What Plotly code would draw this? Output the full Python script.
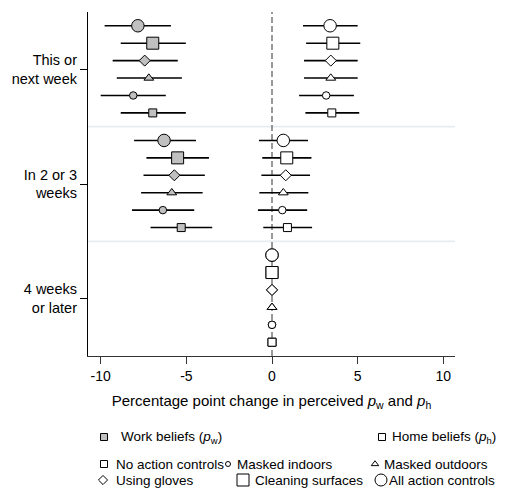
import plotly.graph_objects as go

# ---------------- data ----------------
periods = ["This or<br>next week", "In 2 or 3<br>weeks", "4 weeks<br>or later"]
actions = ["All action controls", "Cleaning surfaces", "Using gloves",
           "Masked outdoors", "Masked indoors", "No action controls"]

# Work beliefs (p_w), per action (order above), per period
work_est_p1 = [-7.83, -6.96, -7.43, -7.19, -8.10, -6.96]
work_lo_p1 = [-9.77, -8.83, -9.30, -9.06, -10.00, -8.83]
work_hi_p1 = [-5.90, -5.03, -5.50, -5.26, -6.20, -5.03]
work_est_p2 = [-6.30, -5.51, -5.70, -5.85, -6.37, -5.30]
work_lo_p2 = [-8.05, -7.33, -7.50, -7.64, -8.17, -7.09]
work_hi_p2 = [-4.44, -3.68, -3.92, -4.05, -4.54, -3.49]
work_est_p3 = [0, 0, 0, 0, 0, 0]
work_lo_p3 = [0, 0, 0, 0, 0, 0]
work_hi_p3 = [0, 0, 0, 0, 0, 0]

# Home beliefs (p_h)
home_est_p1 = [3.39, 3.55, 3.43, 3.43, 3.16, 3.49]
home_lo_p1 = [1.81, 1.99, 1.87, 1.87, 1.58, 1.95]
home_hi_p1 = [5.00, 5.15, 5.00, 5.00, 4.78, 5.09]
home_est_p2 = [0.66, 0.86, 0.80, 0.66, 0.60, 0.90]
home_lo_p2 = [-0.76, -0.57, -0.62, -0.74, -0.82, -0.51]
home_hi_p2 = [2.10, 2.30, 2.22, 2.12, 2.05, 2.34]
home_est_p3 = [0, 0, 0, 0, 0, 0]
home_lo_p3 = [0, 0, 0, 0, 0, 0]
home_hi_p3 = [0, 0, 0, 0, 0, 0]

x_ticks = [-10, -5, 0, 5, 10]

# ---------------- styles ----------------
FONT = "Liberation Sans, Arial, Helvetica, sans-serif"
GRAY = "#c0c0c0"
symbols = ["circle", "square", "diamond", "triangle-up", "circle", "square"]
sizes = [12.5, 12, 8.5, 8.5, 7.5, 8]
centers = [3, 2, 1]
row_step = 0.152
offsets = [2.5, 1.5, 0.5, -0.5, -1.5, -2.5]

work = [(work_est_p1, work_lo_p1, work_hi_p1),
        (work_est_p2, work_lo_p2, work_hi_p2),
        (work_est_p3, work_lo_p3, work_hi_p3)]
home = [(home_est_p1, home_lo_p1, home_hi_p1),
        (home_est_p2, home_lo_p2, home_hi_p2),
        (home_est_p3, home_lo_p3, home_hi_p3)]

fig = go.Figure()

for data, fill in [(work, GRAY), (home, "white")]:
    for i, act in enumerate(actions):
        xs = [data[p][0][i] for p in range(3)]
        lo = [data[p][1][i] for p in range(3)]
        hi = [data[p][2][i] for p in range(3)]
        ys = [centers[p] + offsets[i] * row_step for p in range(3)]
        fig.add_trace(go.Scatter(
            x=xs, y=ys, mode="markers", showlegend=False, name=act,
            marker=dict(symbol=symbols[i], size=sizes[i], color=fill,
                        line=dict(color="black", width=1)),
            error_x=dict(type="data", symmetric=False,
                         array=[h - x for h, x in zip(hi, xs)],
                         arrayminus=[x - l for x, l in zip(xs, lo)],
                         color="black", thickness=1.6, width=0),
        ))

# ---------------- legend (keys as pixel-sized shapes + text) ----------------
L, R, T, B = 88, 57, 12, 148
W, H = 512, 504
pw, ph = W - L - R, H - T - B


def px_x(p):
    return (p - L) / pw


def px_y(p):
    return (H - B - p) / ph


LEG_FONT = dict(family=FONT, size=13.5, color="black")
legend_items = [
    ("Work beliefs (<i>p</i><sub>w</sub>)", "square", 7, GRAY, 104, 121, 437),
    ("Home beliefs (<i>p</i><sub>h</sub>)", "square", 7, "white", 382, 392, 437),
    ("No action controls", "square", 7, "white", 104, 116, 464),
    ("Masked indoors", "circle", 5, "white", 228, 237, 464),
    ("Masked outdoors", "triangle-up", 6.5, "white", 375, 384, 464),
    ("Using gloves", "diamond", 7, "white", 103, 116, 480),
    ("Cleaning surfaces", "square", 12, "white", 243, 255, 480),
    ("All action controls", "circle", 12, "white", 381, 389, 480),
]

shapes = []
annotations = []
for name, sym, sz, fill, S, Tx, Y in legend_items:
    base = dict(xref="paper", yref="paper", xsizemode="pixel", ysizemode="pixel",
                xanchor=px_x(S), yanchor=px_y(Y), fillcolor=fill,
                line=dict(color="black", width=1), layer="above")
    r = sz / 2
    if sym == "square":
        shapes.append(dict(type="rect", x0=-r, x1=r, y0=-r, y1=r, **base))
    elif sym == "circle":
        shapes.append(dict(type="circle", x0=-r, x1=r, y0=-r, y1=r, **base))
    elif sym == "diamond":
        rd = 1.3 * r
        shapes.append(dict(type="path",
                           path=f"M0,{-rd} L{rd},0 L0,{rd} L{-rd},0 Z", **base))
    elif sym == "triangle-up":
        rt = 2 * r / 3 ** 0.5
        shapes.append(dict(type="path",
                           path=f"M{-rt},{-r / 2} L{rt},{-r / 2} L0,{r} Z", **base))
    annotations.append(dict(
        text=name, xref="paper", yref="paper", x=px_x(Tx - 2), y=px_y(Y),
        xanchor="left", yanchor="middle", showarrow=False, font=LEG_FONT,
    ))

# ---------------- guide lines ----------------
for a, b in zip(centers[:-1], centers[1:]):
    shapes.append(dict(type="line", xref="paper", yref="y", x0=0, x1=1,
                       y0=(a + b) / 2, y1=(a + b) / 2,
                       line=dict(color="#e6edf0", width=1.6), layer="below"))
shapes.append(dict(type="line", xref="x", yref="paper", x0=0, x1=0, y0=0, y1=1,
                   line=dict(color="#333333", width=1, dash="6px,3px"),
                   layer="below"))

fig.update_layout(
    width=W, height=H,
    margin=dict(l=L, r=R, t=T, b=B, pad=0),
    paper_bgcolor="white", plot_bgcolor="white",
    font=dict(family=FONT, size=14, color="black"),
    shapes=shapes, annotations=annotations, showlegend=False,
)
fig.update_xaxes(
    range=[-10.74, 10.68], tickvals=x_ticks, ticktext=[str(v) for v in x_ticks],
    showgrid=False, zeroline=False, showline=True, linecolor="#333333", linewidth=1.2,
    ticks="outside", ticklen=7, tickcolor="#333333", tickwidth=1,
    tickfont=dict(family=FONT, size=14, color="black"),
    title=dict(text="Percentage point change in perceived <i>p</i><sub>w</sub> and <i>p</i><sub>h</sub>",
               font=dict(family=FONT, size=15, color="black"), standoff=12),
    automargin=False,
)
fig.update_yaxes(
    range=[0.5, 3.5], tickvals=centers, ticktext=periods,
    showgrid=False, zeroline=False, showline=True, linecolor="black", linewidth=1.2,
    ticks="outside", ticklen=7, tickcolor="black", tickwidth=1,
    tickfont=dict(family=FONT, size=14.5, color="black"),
    automargin=False,
)

fig.write_html("out.html")
